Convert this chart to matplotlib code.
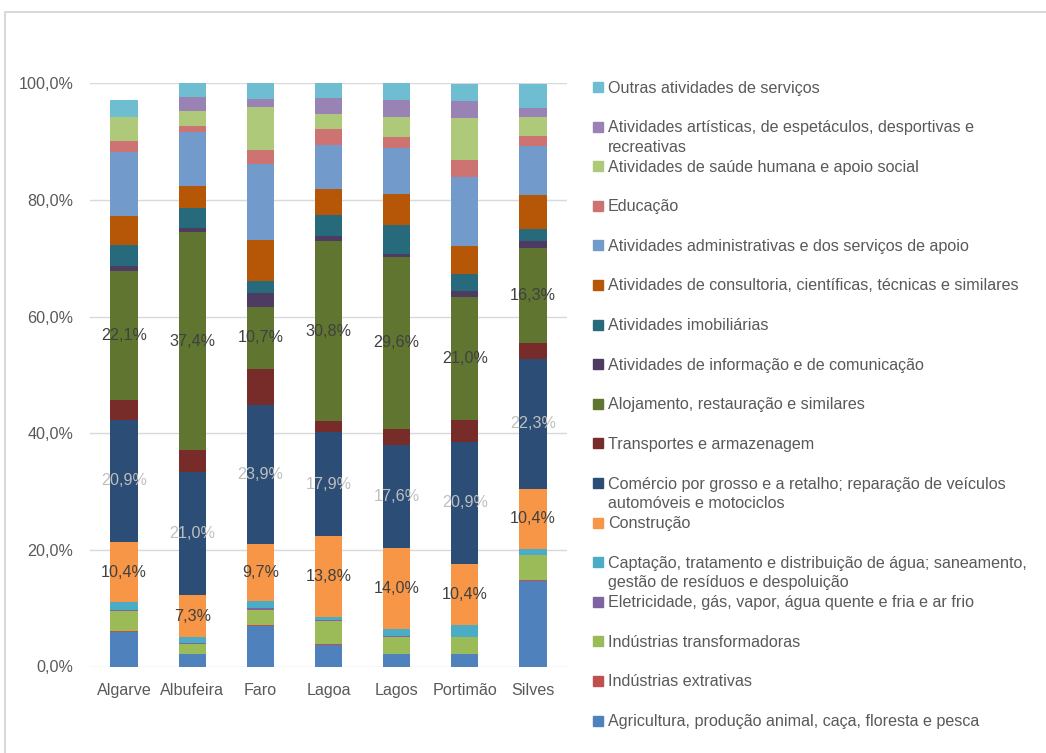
import matplotlib.pyplot as plt
from matplotlib.patches import Rectangle

plt.rcParams["font.family"] = ["Liberation Sans", "DejaVu Sans"]

TEXT_COLOR = "#595959"
GRID_COLOR = "#d9d9d9"
FONT_SIZE = 11.6

municipios = ["Algarve", "Albufeira", "Faro", "Lagoa", "Lagos", "Portimão", "Silves"]

# Shares (%) per sector, listed from the bottom of the stack upwards
agricultura = [6.0, 2.1, 7.0, 3.7, 2.1, 2.1, 14.7]
extrativas = [0.1, 0.1, 0.1, 0.1, 0.1, 0.1, 0.1]
transformadoras = [3.4, 1.7, 2.6, 4.0, 2.9, 2.8, 4.3]
eletricidade = [0.2, 0.1, 0.3, 0.1, 0.1, 0.1, 0.1]
captacao = [1.3, 1.0, 1.3, 0.6, 1.2, 2.1, 0.9]
construcao = [10.4, 7.3, 9.7, 13.8, 14.0, 10.4, 10.4]
comercio = [20.9, 21.0, 23.9, 17.9, 17.6, 20.9, 22.3]
transportes = [3.4, 3.8, 6.1, 1.9, 2.7, 3.8, 2.7]
alojamento = [22.1, 37.4, 10.7, 30.8, 29.6, 21.0, 16.3]
informacao = [0.9, 0.7, 2.3, 0.9, 0.5, 1.1, 1.1]
imobiliarias = [3.6, 3.4, 2.1, 3.6, 4.9, 2.9, 2.2]
consultoria = [4.9, 3.8, 7.0, 4.5, 5.4, 4.8, 5.8]
administrativas = [11.0, 9.2, 13.0, 7.6, 7.8, 11.9, 8.4]
educacao = [1.9, 1.1, 2.4, 2.7, 1.9, 2.9, 1.6]
saude = [4.2, 2.6, 7.4, 2.6, 3.4, 7.1, 3.3]
artisticas = [0.0, 2.3, 1.4, 2.7, 2.9, 2.9, 1.6]
outras = [2.8, 2.4, 2.7, 2.6, 3.0, 3.0, 4.1]

# (label, values, colour, data label colour or None)
sectors = [
    ("Agricultura, produção animal, caça, floresta e pesca", agricultura, "#4f81bd", None),
    ("Indústrias extrativas", extrativas, "#c0504d", None),
    ("Indústrias transformadoras", transformadoras, "#9bbb59", None),
    ("Eletricidade, gás, vapor, água quente e fria e ar frio", eletricidade, "#8064a2", None),
    ("Captação, tratamento e distribuição de água; saneamento,\ngestão de resíduos e despoluição",
     captacao, "#4bacc6", None),
    ("Construção", construcao, "#f79646", "#404040"),
    ("Comércio por grosso e a retalho; reparação de veículos\nautomóveis e motociclos",
     comercio, "#2c4d75", "#bfbfbf"),
    ("Transportes e armazenagem", transportes, "#772c2a", None),
    ("Alojamento, restauração e similares", alojamento, "#5f7530", "#404040"),
    ("Atividades de informação e de comunicação", informacao, "#4d3b62", None),
    ("Atividades imobiliárias", imobiliarias, "#276a7c", None),
    ("Atividades de consultoria, científicas, técnicas e similares", consultoria, "#b65708", None),
    ("Atividades administrativas e dos serviços de apoio", administrativas, "#729aca", None),
    ("Educação", educacao, "#cd7371", None),
    ("Atividades de saúde humana e apoio social", saude, "#afc97a", None),
    ("Atividades artísticas, de espetáculos, desportivas e\nrecreativas", artisticas, "#9983b5", None),
    ("Outras atividades de serviços", outras, "#6fbdd1", None),
]

fig = plt.figure(figsize=(10.46, 7.53), dpi=100)
ax = fig.add_axes([90 / 1046, 1 - 666.5 / 753, 477 / 1046, 583.2 / 753])

x = list(range(len(municipios)))
bottom = [0.0] * len(municipios)
for label, values, color, lab_color in sectors:
    bars = ax.bar(x, values, width=0.4, bottom=bottom, color=color, label=label, zorder=2)
    if lab_color:
        ax.bar_label(bars, labels=[f"{v:.1f}%".replace(".", ",") for v in values],
                     label_type="center", color=lab_color, fontsize=FONT_SIZE)
    bottom = [b + v for b, v in zip(bottom, values)]

ax.set_xlim(-0.5, len(municipios) - 0.5)
ax.set_ylim(0, 100)
ax.set_yticks([0, 20, 40, 60, 80, 100])
ax.set_yticklabels([f"{t:.1f}%".replace(".", ",") for t in [0, 20, 40, 60, 80, 100]])
ax.set_xticks(x)
ax.set_xticklabels(municipios)
ax.tick_params(axis="y", length=0, pad=12, labelsize=FONT_SIZE, labelcolor=TEXT_COLOR)
ax.tick_params(axis="x", length=0, pad=12, labelsize=FONT_SIZE, labelcolor=TEXT_COLOR)
ax.yaxis.grid(True, color=GRID_COLOR, linewidth=1, zorder=0)
ax.set_axisbelow(True)
for spine in ax.spines.values():
    spine.set_visible(False)

# legend drawn by hand, top entry first, fixed spacing so wrapped lines
# run into the next entry like in the original
for i, (label, values, color, lab_color) in enumerate(reversed(sectors)):
    y_px = 87 + i * 39.6
    fig.add_artist(Rectangle((593 / 1046, 1 - (y_px + 5) / 753), 10 / 1046, 10 / 753,
                             transform=fig.transFigure, color=color))
    for j, line in enumerate(label.split("\n")):
        fig.text(608 / 1046, 1 - (y_px + 5.5 + j * 19.5) / 753, line, fontsize=FONT_SIZE,
                 color=TEXT_COLOR, va="baseline", ha="left")

# light frame around the chart area
fig.add_artist(Rectangle((5 / 1046, -0.05), 1.1, 1 - 12 / 753 + 0.05, transform=fig.transFigure,
                         fill=False, edgecolor="#d9d9d9", linewidth=1.5))

fig.savefig("out.png", dpi=100)
